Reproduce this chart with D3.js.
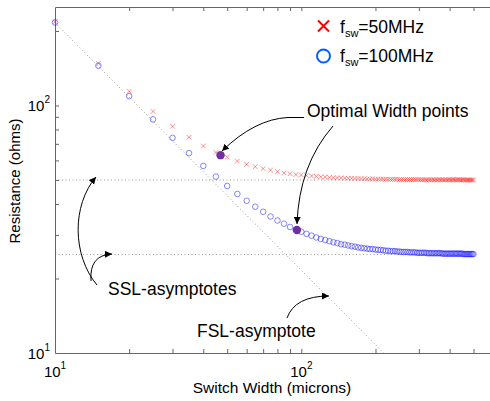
<!DOCTYPE html>
<html lang="en">
<head>
<script src="https://cdnjs.cloudflare.com/ajax/libs/d3/7.8.5/d3.min.js"></script>
<style>
  body { margin: 0; background: #fff; }
  text { font-family: Helvetica, Arial, "Liberation Sans", sans-serif; fill: #000; }
  .axis path, .axis line { stroke: #666; }
</style>
</head>
<body>
<svg id="chart" width="490" height="401"></svg>
<script>
// switch widths (microns), sampled every 5 um
const widths = [
  10, 15, 20, 25, 30, 35, 40, 45, 50, 55,
  60, 65, 70, 75, 80, 85, 90, 95, 100, 105,
  110, 115, 120, 125, 130, 135, 140, 145, 150, 155,
  160, 165, 170, 175, 180, 185, 190, 195, 200, 205,
  210, 215, 220, 225, 230, 235, 240, 245, 250, 255,
  260, 265, 270, 275, 280, 285, 290, 295, 300, 305,
  310, 315, 320, 325, 330, 335, 340, 345, 350, 355,
  360, 365, 370, 375, 380, 385, 390, 395, 400, 405,
  410, 415, 420, 425, 430, 435, 440, 445, 450, 455,
  460, 465, 470, 475, 480, 485, 490, 495, 500
];

// resistance (ohms) at fsw = 50MHz
const res50 = [
  218.2, 148.0, 114.0, 94.6, 82.4, 74.4, 68.6, 64.6, 61.8, 59.6,
  57.8, 56.6, 55.6, 54.8, 54.0, 53.4, 53.0, 52.6, 52.4, 52.1,
  51.9, 51.7, 51.5, 51.4, 51.2, 51.1, 51.0, 51.0, 50.9, 50.8,
  50.8, 50.7, 50.7, 50.6, 50.6, 50.5, 50.5, 50.5, 50.4, 50.4,
  50.4, 50.4, 50.4, 50.3, 50.3, 50.3, 50.3, 50.3, 50.2, 50.2,
  50.2, 50.2, 50.2, 50.2, 50.2, 50.2, 50.2, 50.2, 50.2, 50.1,
  50.1, 50.1, 50.1, 50.1, 50.1, 50.1, 50.1, 50.1, 50.1, 50.1,
  50.1, 50.1, 50.1, 50.1, 50.1, 50.1, 50.1, 50.1, 50.1, 50.1,
  50.1, 50.1, 50.1, 50.1, 50.1, 50.1, 50.1, 50.1, 50.1, 50.1,
  50.0, 50.0, 50.0, 50.0, 50.0, 50.0, 50.0, 50.0, 50.0
];

// resistance (ohms) at fsw = 100MHz
const res100 = [
  216.4, 144.7, 109.1, 87.9, 74.0, 64.2, 57.0, 51.6, 47.3, 43.9,
  41.2, 39.0, 37.2, 35.6, 34.3, 33.3, 32.3, 31.5, 30.9, 30.3,
  29.8, 29.3, 28.9, 28.6, 28.3, 28.0, 27.8, 27.5, 27.4, 27.2,
  27.0, 26.9, 26.7, 26.6, 26.5, 26.4, 26.3, 26.3, 26.2, 26.1,
  26.1, 26.0, 25.9, 25.9, 25.8, 25.8, 25.8, 25.7, 25.7, 25.6,
  25.6, 25.6, 25.6, 25.5, 25.5, 25.5, 25.5, 25.4, 25.4, 25.4,
  25.4, 25.4, 25.4, 25.3, 25.3, 25.3, 25.3, 25.3, 25.3, 25.3,
  25.3, 25.3, 25.3, 25.2, 25.2, 25.2, 25.2, 25.2, 25.2, 25.2,
  25.2, 25.2, 25.2, 25.2, 25.2, 25.2, 25.2, 25.2, 25.2, 25.1,
  25.1, 25.1, 25.1, 25.1, 25.1, 25.1, 25.1, 25.1, 25.1
];

// optimal width points (50MHz, 100MHz)
const optWidth = [47, 96];
const optRes = [63.0, 31.4];

// asymptotes
const sslLevels = [50, 25];
const fslX = [10, 216];
const fslY = [216, 10];

// ticks
const xTicks = [20, 30, 40, 50, 60, 70, 80, 90, 100, 200, 300, 400, 500];
const yTicks = [20, 30, 40, 50, 60, 70, 80, 90, 100, 200];
const xLabelVals = [10, 100];
const yLabelVals = [10, 100];

const svg = d3.select("#chart");
const x = d3.scaleLog().domain([10, 600]).range([55, 493]);
const y = d3.scaleLog().domain([10, 250]).range([353, 7]);

// asymptote lines
const dotted = svg.append("g")
  .attr("fill", "none")
  .attr("stroke", "#999")
  .attr("stroke-width", 1)
  .attr("stroke-dasharray", "1,2.5");

sslLevels.forEach(v => {
  dotted.append("line")
    .attr("x1", x(10)).attr("x2", x(500))
    .attr("y1", y(v)).attr("y2", y(v));
});
dotted.append("line")
  .attr("x1", x(fslX[0])).attr("y1", y(fslY[0]))
  .attr("x2", x(fslX[1])).attr("y2", y(fslY[1]));

// axes (box, ticks pointing inward)
svg.append("g").attr("class", "axis")
  .attr("transform", "translate(0,353)")
  .call(d3.axisBottom(x).tickValues(xTicks).tickSizeInner(-4).tickSizeOuter(0).tickFormat(""));
svg.append("g").attr("class", "axis")
  .attr("transform", "translate(0,7)")
  .call(d3.axisTop(x).tickValues(xTicks).tickSizeInner(-4).tickSizeOuter(0).tickFormat(""));
svg.append("g").attr("class", "axis")
  .attr("transform", "translate(55,0)")
  .call(d3.axisLeft(y).tickValues(yTicks).tickSizeInner(-4).tickSizeOuter(0).tickFormat(""));

function powLabel(sel, v) {
  sel.append("tspan").attr("font-size", 15).text("10");
  sel.append("tspan").attr("font-size", 10).attr("dy", -8).text(Math.round(Math.log10(v)));
}

xLabelVals.forEach(v => {
  const t = svg.append("text")
    .attr("x", x(v)).attr("y", 377)
    .attr("text-anchor", "middle");
  powLabel(t, v);
});
yLabelVals.forEach(v => {
  const t = svg.append("text")
    .attr("x", 50).attr("y", y(v) + 6)
    .attr("text-anchor", "end");
  powLabel(t, v);
});

svg.append("text")
  .attr("x", 272).attr("y", 393)
  .attr("text-anchor", "middle")
  .attr("font-size", 15.5)
  .text("Switch Width (microns)");

svg.append("text")
  .attr("transform", "translate(20,181) rotate(-90)")
  .attr("text-anchor", "middle")
  .attr("font-size", 15)
  .text("Resistance (ohms)");

// data series
const pts50 = widths.map((w, i) => ({w: w, r: res50[i]}));
const pts100 = widths.map((w, i) => ({w: w, r: res100[i]}));

svg.append("g").selectAll("circle")
  .data(pts100)
  .enter().append("circle")
  .attr("cx", d => x(d.w))
  .attr("cy", d => y(d.r))
  .attr("r", 2.8)
  .attr("fill", "none")
  .attr("stroke", "#1a1aff")
  .attr("stroke-width", 0.7)
  .attr("stroke-opacity", 0.75);

svg.append("g").selectAll("path")
  .data(pts50)
  .enter().append("path")
  .attr("d", "M-2.3,-2.3L2.3,2.3M-2.3,2.3L2.3,-2.3")
  .attr("transform", d => "translate(" + x(d.w) + "," + y(d.r) + ")")
  .attr("stroke", "#ff1a1a")
  .attr("stroke-width", 0.7)
  .attr("stroke-opacity", 0.7);

svg.append("g").selectAll("circle")
  .data(optWidth)
  .enter().append("circle")
  .attr("cx", d => x(d))
  .attr("cy", (d, i) => y(optRes[i]))
  .attr("r", 4.2)
  .attr("fill", "#7030a0");

// arrows
svg.append("defs").append("marker")
  .attr("id", "head")
  .attr("viewBox", "0 0 10 10")
  .attr("refX", 10).attr("refY", 5)
  .attr("markerWidth", 7).attr("markerHeight", 7)
  .attr("markerUnits", "userSpaceOnUse")
  .attr("orient", "auto")
  .append("path")
  .attr("d", "M0,0L10,5L0,10z")
  .attr("fill", "#000");

const arrows = [
  "M304,117.5L288,117.5Q255,119 222,151",
  "M333,126Q299,165 297,224",
  "M97,285C72,255 72,205 96,177",
  "M91,281Q89,255 112,254",
  "M287,318Q295,296 329,296"
];
svg.append("g").selectAll("path")
  .data(arrows)
  .enter().append("path")
  .attr("d", d => d)
  .attr("fill", "none")
  .attr("stroke", "#000")
  .attr("stroke-width", 1)
  .attr("marker-end", "url(#head)");

svg.append("text").attr("x", 307).attr("y", 117).attr("font-size", 17.5).text("Optimal Width points");
svg.append("text").attr("x", 108).attr("y", 295).attr("font-size", 17.5).text("SSL-asymptotes");
svg.append("text").attr("x", 197).attr("y", 337).attr("font-size", 17.5).text("FSL-asymptote");

// legend
svg.append("path")
  .attr("d", "M318,20.5L329,31.5M318,31.5L329,20.5")
  .attr("stroke", "#ff0000")
  .attr("stroke-width", 2);
svg.append("circle")
  .attr("cx", 323.5).attr("cy", 56).attr("r", 6.5)
  .attr("fill", "none")
  .attr("stroke", "#0060ff")
  .attr("stroke-width", 2);

const legendText = [["=50MHz", 33], ["=100MHz", 62]];
legendText.forEach(d => {
  const t = svg.append("text").attr("x", 340).attr("y", d[1]).attr("font-size", 17.5);
  t.append("tspan").text("f");
  t.append("tspan").attr("font-size", 11).attr("dy", 4).text("sw");
  t.append("tspan").attr("dy", -4).text(d[0]);
});
</script>
</body>
</html>
